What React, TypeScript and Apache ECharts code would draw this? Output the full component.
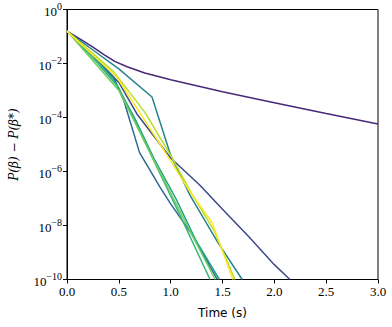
import React, { useEffect, useRef } from "react";
import * as echarts from "echarts";

// Time (s) and log10(P(beta) - P(beta*)) for each run
const purpleT = [0, 0.12, 0.25, 0.36, 0.46, 0.58, 0.75, 0.9, 1.0, 1.5, 2.0, 2.5, 3.0];
const purpleE = [-0.8, -1.08, -1.39, -1.68, -1.92, -2.12, -2.35, -2.5, -2.6, -3.05, -3.45, -3.85, -4.24];

const indigoT = [0, 0.25, 0.5, 0.68, 1.0, 1.28, 1.5, 1.75, 2.0, 2.15];
const indigoE = [-0.8, -1.7, -2.7, -3.9, -5.5, -6.5, -7.4, -8.4, -9.45, -10];

const steelT = [0, 0.25, 0.45, 0.55, 0.7, 0.9, 1.0, 1.2, 1.45];
const steelE = [-0.8, -1.7, -2.5, -3.4, -5.3, -6.6, -7.2, -8.3, -10];

const tealT = [0, 0.25, 0.5, 0.82, 1.0, 1.19, 1.45, 1.69];
const tealE = [-0.8, -1.5, -2.2, -3.24, -5.4, -6.9, -8.6, -10];

const tealGreenT = [0, 0.25, 0.45, 0.65, 0.85, 1.05, 1.25, 1.47];
const tealGreenE = [-0.8, -1.7, -2.6, -4.0, -5.6, -7.0, -8.6, -10];

const greenT = [0, 0.25, 0.5, 0.7, 0.9, 1.1, 1.38];
const greenE = [-0.8, -1.8, -2.9, -4.5, -6.1, -7.7, -10];

const lightGreenT = [0, 0.25, 0.5, 0.75, 1.0, 1.2, 1.43];
const lightGreenE = [-0.8, -1.9, -3.0, -4.9, -6.8, -8.3, -10];

const yellowGreenT = [0, 0.45, 0.75, 1.0, 1.2, 1.42, 1.62];
const yellowGreenE = [-0.8, -2.3, -3.8, -5.4, -6.8, -8.2, -10];

const yellowT = [0, 0.48, 0.95, 1.16, 1.4, 1.6];
const yellowE = [-0.8, -2.5, -5.3, -6.6, -7.9, -10];

const runs = [
  { t: purpleT, e: purpleE, color: "#482878" },
  { t: indigoT, e: indigoE, color: "#3e4989" },
  { t: steelT, e: steelE, color: "#31688e" },
  { t: tealT, e: tealE, color: "#26828e" },
  { t: tealGreenT, e: tealGreenE, color: "#1f9e89" },
  { t: greenT, e: greenE, color: "#35b779" },
  { t: lightGreenT, e: lightGreenE, color: "#6ece58" },
  { t: yellowGreenT, e: yellowGreenE, color: "#b5de2b" },
  { t: yellowT, e: yellowE, color: "#fde725" },
];

const xTicks = ["0.0", "0.5", "1.0", "1.5", "2.0", "2.5", "3.0"];

export default function App() {
  const ref = useRef<HTMLDivElement>(null);
  useEffect(() => {
    const chart = echarts.init(ref.current!, undefined, { renderer: "svg" });
    const tickFont = "Liberation Serif";
    chart.setOption({
      animation: false,
      backgroundColor: "#fff",
      grid: {
        left: 67,
        top: 9.5,
        right: 14,
        bottom: 47.5,
        show: true,
        borderColor: "#000",
        borderWidth: 1,
      },
      xAxis: {
        type: "value",
        min: 0,
        max: 3,
        interval: 0.5,
        name: "Time (s)",
        nameLocation: "middle",
        nameGap: 27,
        nameTextStyle: { fontFamily: "DejaVu Sans", fontSize: 12, color: "#000" },
        axisLine: { lineStyle: { color: "#000", width: 1 } },
        axisTick: { show: true, inside: false, length: 4, lineStyle: { color: "#000" } },
        axisLabel: {
          margin: 5,
          fontFamily: tickFont,
          fontSize: 13,
          color: "#000",
          formatter: (v: number) => xTicks[Math.round(v / 0.5)] ?? v.toFixed(1),
        },
        splitLine: { show: false },
      },
      yAxis: {
        type: "log",
        logBase: 10,
        min: 1e-10,
        max: 1,
        interval: 2,
        name: "P(β) − P(β*)",
        nameLocation: "middle",
        nameGap: 47,
        nameTextStyle: {
          fontFamily: "DejaVu Serif",
          fontStyle: "italic",
          fontSize: 12,
          color: "#000",
        },
        axisLine: { show: true, lineStyle: { color: "#000", width: 1 } },
        axisTick: { show: true, inside: false, length: 4, lineStyle: { color: "#000" } },
        minorTick: { show: false },
        axisLabel: {
          margin: 5,
          color: "#000",
          formatter: (v: number) => {
            const e = Math.round(Math.log10(v));
            const s = e < 0 ? "−" + String(-e) : String(e);
            return "{b|10}{s|" + s + "}";
          },
          rich: {
            b: { fontFamily: tickFont, fontSize: 13, color: "#000", lineHeight: 17, verticalAlign: "bottom" },
            s: { fontFamily: tickFont, fontSize: 10, color: "#000", lineHeight: 10, verticalAlign: "top" },
          },
        },
        splitLine: { show: false },
      },
      series: runs.map((r) => ({
        type: "line",
        data: r.t.map((t, i) => [t, Math.pow(10, r.e[i])]),
        showSymbol: false,
        symbol: "none",
        clip: true,
        lineStyle: { color: r.color, width: 1.5 },
        itemStyle: { color: r.color },
      })),
    });
    return () => chart.dispose();
  }, []);
  return (
    <div
      ref={ref}
      style={{ position: "fixed", left: 0, top: 0, width: 392, height: 327 }}
    />
  );
}
